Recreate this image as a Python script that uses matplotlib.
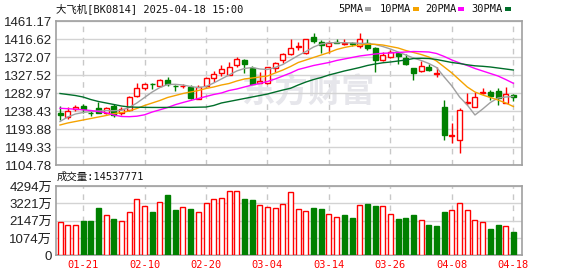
import matplotlib
matplotlib.use("Agg")
import matplotlib.pyplot as plt
from matplotlib.patches import Rectangle

# daily k-line data (price in points, volume in 万)
opens = [1235.0, 1223.6, 1244.1, 1251.5, 1235.4, 1245.8, 1233.5, 1251.5, 1235.0, 1241.7,
         1276.3, 1296.8, 1306.5, 1301.0, 1315.9, 1301.8, 1300.3, 1299.3, 1269.6, 1301.0,
         1320.1, 1334.0, 1329.5, 1351.8, 1365.4, 1346.8, 1309.7, 1307.7, 1346.1, 1364.7,
         1379.5, 1397.6, 1382.0, 1423.1, 1409.9, 1400.0, 1410.7, 1406.2, 1407.5, 1400.0,
         1406.7, 1395.1, 1365.4, 1372.1, 1381.5, 1369.6, 1344.9, 1337.4, 1348.1, 1331.5,
         1249.1, 1178.5, 1167.4, 1259.0, 1249.8, 1284.5, 1286.9, 1288.7, 1259.7, 1278.8]
highs = [1251.5, 1248.3, 1254.0, 1256.5, 1239.2, 1262.2, 1248.3, 1256.5, 1248.3, 1276.3,
         1307.7, 1309.2, 1309.7, 1317.6, 1322.6, 1303.5, 1306.0, 1302.8, 1302.3, 1324.1,
         1337.4, 1353.0, 1361.2, 1371.6, 1368.6, 1350.5, 1336.4, 1349.3, 1360.5, 1383.5,
         1416.6, 1410.7, 1418.6, 1431.5, 1416.1, 1412.4, 1416.6, 1416.6, 1409.2, 1433.0,
         1418.6, 1398.3, 1384.0, 1390.2, 1386.0, 1380.3, 1345.6, 1362.9, 1354.7, 1348.1,
         1266.4, 1208.7, 1245.9, 1283.0, 1286.9, 1295.3, 1291.1, 1295.3, 1299.3, 1281.2]
lows = [1216.9, 1218.6, 1239.9, 1233.5, 1228.0, 1233.5, 1231.7, 1225.1, 1229.3, 1239.9,
        1274.6, 1291.1, 1292.9, 1299.3, 1301.0, 1289.4, 1295.3, 1268.1, 1268.1, 1299.3,
        1311.4, 1325.8, 1328.3, 1348.8, 1332.5, 1304.8, 1308.5, 1306.0, 1336.4, 1359.2,
        1377.8, 1390.2, 1379.5, 1408.2, 1382.0, 1382.0, 1406.7, 1402.5, 1400.0, 1394.4,
        1390.2, 1336.4, 1363.7, 1370.3, 1354.7, 1353.0, 1315.9, 1336.4, 1338.9, 1322.6,
        1166.2, 1160.7, 1136.0, 1254.0, 1248.3, 1281.2, 1266.4, 1254.0, 1258.2, 1264.7]
closes = [1230.0, 1239.2, 1248.3, 1243.4, 1233.5, 1235.0, 1245.8, 1229.3, 1243.4, 1274.6,
          1295.3, 1305.2, 1304.8, 1315.9, 1306.0, 1300.3, 1301.5, 1271.8, 1299.3, 1320.1,
          1331.2, 1342.4, 1347.3, 1367.1, 1356.2, 1306.7, 1312.2, 1347.3, 1357.2, 1379.8,
          1394.4, 1399.5, 1416.6, 1413.2, 1402.5, 1408.2, 1408.2, 1407.5, 1405.5, 1416.6,
          1396.3, 1365.4, 1378.5, 1384.5, 1375.3, 1354.7, 1334.0, 1350.5, 1341.4, 1332.7,
          1179.8, 1180.5, 1241.7, 1260.7, 1273.1, 1286.2, 1276.3, 1270.6, 1281.2, 1273.1]

ma5 = [1213.2, 1224.3, 1231.7, 1235.5, 1237.9, 1239.2, 1239.9, 1239.9, 1241.1, 1247.8,
       1259.0, 1272.6, 1286.2, 1297.3, 1304.8, 1305.2, 1303.5, 1299.8, 1297.3, 1299.8,
       1308.5, 1318.4, 1328.3, 1338.2, 1344.4, 1346.8, 1343.1, 1341.9, 1346.8, 1354.3,
       1365.4, 1376.5, 1386.4, 1397.6, 1405.0, 1408.2, 1408.2, 1408.2, 1407.5, 1406.7,
       1406.2, 1403.8, 1398.8, 1392.6, 1385.2, 1377.8, 1370.3, 1364.2, 1356.7, 1346.8,
       1323.3, 1301.0, 1273.8, 1254.0, 1229.3, 1244.1, 1260.2, 1271.3, 1273.8, 1275.1]
ma10 = [1204.5, 1209.5, 1213.2, 1216.9, 1220.6, 1224.3, 1228.0, 1232.5, 1235.5, 1239.2,
        1245.4, 1252.8, 1259.0, 1265.2, 1272.6, 1277.5, 1282.5, 1286.2, 1289.9, 1294.9,
        1298.6, 1303.5, 1307.2, 1313.4, 1318.4, 1320.8, 1323.3, 1325.8, 1333.2, 1340.6,
        1349.3, 1359.2, 1365.4, 1371.6, 1377.8, 1384.0, 1391.4, 1396.3, 1400.0, 1402.5,
        1404.2, 1404.2, 1402.5, 1398.8, 1395.1, 1388.9, 1384.0, 1379.0, 1372.8, 1362.9,
        1348.1, 1333.2, 1315.9, 1298.6, 1286.2, 1278.8, 1272.6, 1266.4, 1259.0, 1250.3]
ma20 = [1245.9, 1244.9, 1243.6, 1242.1, 1240.4, 1237.9, 1234.7, 1229.3, 1225.6, 1225.1,
        1226.3, 1229.8, 1236.7, 1242.1, 1247.8, 1254.8, 1260.2, 1265.2, 1270.1, 1275.1,
        1280.0, 1283.7, 1289.9, 1293.6, 1298.6, 1303.5, 1307.2, 1312.2, 1318.4, 1325.8,
        1333.2, 1341.9, 1346.8, 1351.8, 1355.5, 1359.2, 1364.2, 1367.9, 1371.6, 1375.3,
        1377.8, 1380.2, 1382.0, 1382.7, 1384.0, 1385.2, 1386.4, 1385.9, 1385.2, 1381.5,
        1374.1, 1365.4, 1358.0, 1351.8, 1344.4, 1338.2, 1332.0, 1325.8, 1317.1, 1307.7]
ma30 = [1282.5, 1280.0, 1277.5, 1273.8, 1267.6, 1262.7, 1259.0, 1255.3, 1251.5, 1249.1,
        1248.5, 1248.2, 1248.0, 1247.9, 1248.1, 1248.3, 1248.4, 1248.2, 1248.6, 1249.0,
        1252.8, 1259.0, 1262.7, 1266.4, 1270.1, 1273.8, 1277.5, 1281.2, 1286.2, 1291.1,
        1295.4, 1303.5, 1310.9, 1317.1, 1322.1, 1328.3, 1333.2, 1338.2, 1342.4, 1346.8,
        1351.8, 1355.5, 1358.5, 1360.4, 1362.9, 1365.4, 1369.1, 1369.6, 1369.1, 1366.6,
        1362.9, 1359.2, 1356.7, 1353.5, 1351.0, 1349.8, 1348.1, 1345.6, 1343.1, 1340.6]

volumes = [2085, 1878, 1878, 2147, 2147, 2931, 2477, 2250, 2126, 2683,
           3468, 3055, 2683, 3302, 3736, 2807, 2993, 2869, 2683, 3220,
           3468, 3529, 3963, 3963, 3488, 3426, 3096, 2993, 2910, 3178,
           3901, 2848, 2745, 2931, 2869, 2559, 2374, 2497, 2312, 3117,
           3199, 3075, 3055, 2559, 2250, 2312, 2497, 2188, 1878, 1816,
           2704, 2807, 3240, 2807, 2188, 2064, 1630, 1878, 1816, 1453.8]
vol_up = [1, 1, 1, 0, 0, 0, 1, 0, 1, 1,
          1, 1, 0, 1, 0, 0, 1, 0, 1, 1,
          1, 1, 1, 1, 0, 0, 1, 1, 1, 1,
          1, 1, 1, 0, 0, 1, 1, 0, 0, 1,
          0, 0, 1, 1, 0, 0, 0, 1, 0, 0,
          0, 1, 1, 1, 1, 1, 0, 0, 1, 0]

date_idx = [3, 11, 19, 27, 35, 43, 51, 59]
date_labels = ["01-21", "02-10", "02-20", "03-04", "03-14", "03-26", "04-08", "04-18"]
price_ticks = [1104.78, 1149.33, 1193.88, 1238.43, 1282.97, 1327.52, 1372.07, 1416.62, 1461.17]
vol_ticks = [0, 1074, 2147, 3221, 4294]
vol_tick_labels = ["0", "1074万", "2147万", "3221万", "4294万"]

RED = "#ff0000"
GREEN = "#008000"
MONO = ["DejaVu Sans Mono", "Noto Sans CJK SC"]
SANS = ["Liberation Sans", "Noto Sans CJK SC"]

W, H = 578, 276
fig = plt.figure(figsize=(W / 100, H / 100), dpi=100)


def px_axes(l, t, r, b):
    return fig.add_axes([l / W, 1 - b / H, (r - l) / W, (b - t) / H])


ax = px_axes(55.7, 21.3, 522, 165.3)
axv = px_axes(55.7, 186, 522, 255.3)

for a in (ax, axv):
    a.set_xlim(-0.56, 60.12)
    for sp in a.spines.values():
        sp.set_color("#a0a0a0")
        sp.set_linewidth(1.2)
    a.tick_params(length=0)
    for i in date_idx:
        a.axvline(i, color="#c8c8c8", lw=1, ls=(0, (4, 4)), zorder=0)
    a.yaxis.grid(True, color="#d3d3d3", lw=1, zorder=0)

# watermark
ax.text(0.541, 0.499, "东方财富", transform=ax.transAxes, ha="center", va="center",
        fontsize=24, fontweight="bold", color="#e6e6eb", family=["Noto Sans CJK SC"], zorder=0.5)

# candles
bw = 0.65
for i in range(len(closes)):
    o, h, l, c = opens[i], highs[i], lows[i], closes[i]
    up = c >= o
    col = RED if up else GREEN
    ax.vlines(i, l, h, color=col, lw=1, zorder=2)
    bottom = min(o, c)
    height = max(abs(c - o), 0.6)
    ax.add_patch(Rectangle((i - bw / 2, bottom), bw, height, facecolor="white" if up else col,
                           edgecolor=col, lw=1, zorder=3))

x = list(range(len(closes)))
ax.plot(x, ma5, color="#a0a0a0", lw=1, zorder=4)
ax.plot(x, ma10, color="#f5a300", lw=1, zorder=4)
ax.plot(x, ma20, color="#ff00ff", lw=1, zorder=4)
ax.plot(x, ma30, color="#006e2a", lw=1, zorder=4)

ax.set_ylim(price_ticks[0], price_ticks[-1])
ax.set_yticks(price_ticks)
ax.set_yticklabels([f"{v:.2f}" for v in price_ticks], family=SANS, fontsize=9.5, color="#222222")
ax.tick_params(axis="y", pad=2.7)
ax.set_xticks([])

# volume
vcols = [RED if u else GREEN for u in vol_up]
vfaces = ["white" if u else GREEN for u in vol_up]
axv.bar(x, volumes, width=bw, facecolor=vfaces, edgecolor=vcols, lw=1, zorder=3)
axv.set_ylim(0, vol_ticks[-1])
axv.set_yticks(vol_ticks)
axv.set_yticklabels(vol_tick_labels, family=SANS, fontsize=9.5, color="#222222")
axv.tick_params(axis="y", pad=2.7)
axv.set_xticks(date_idx)
axv.set_xticklabels(date_labels, family=MONO, fontsize=7.5, color=RED)
axv.tick_params(axis="x", pad=3.6)

# header texts
fig.text(56 / W, 1 - 9 / H, "大飞机[BK0814] 2025-04-18 15:00", va="center", ha="left",
         family=MONO, fontsize=7.5, color="#111111")
fig.text(57 / W, 1 - 176.7 / H, "成交量:14537771", va="center", ha="left",
         family=MONO, fontsize=7.5, color="#111111")

legend = [("5PMA", 338.3, "#a0a0a0"), ("10PMA", 380, "#f5a300"),
          ("20PMA", 425, "#ff00ff"), ("30PMA", 471.7, "#006e2a")]
for name, lx, col in legend:
    t = fig.text(lx / W, 1 - 9 / H, name, va="center", ha="left", family=MONO,
                 fontsize=7.5, color="#111111")
    dx = lx + len(name) * 6.27 + 2
    fig.add_artist(Rectangle((dx / W, 1 - 10.7 / H), 5.5 / W, 3.4 / H,
                             transform=fig.transFigure, facecolor=col, edgecolor="none"))

fig.savefig("out.png", dpi=100)
